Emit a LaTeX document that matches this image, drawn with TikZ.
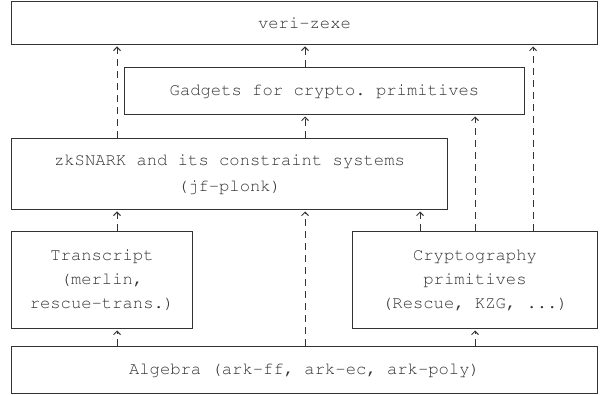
\documentclass[tikz,border=0pt]{standalone}
\usepackage[T1]{fontenc}
\usetikzlibrary{arrows.meta}
\definecolor{ink}{HTML}{333333}
\frenchspacing
\tikzset{
  box/.style={draw=ink, line width=1pt, anchor=north west, inner sep=0pt,
    align=center, text=ink, font=\fontfamily{pcr}\fontsize{17.2}{24}\selectfont\frenchspacing},
  dep/.style={draw=ink, line width=0.9pt, dash pattern=on 7pt off 5pt,
    -{Straight Barb[length=3.5pt,width=7pt]}, shorten >=1.5pt}
}
\begin{document}
\begin{tikzpicture}[x=1pt,y=-1pt]
\useasboundingbox (0,0) rectangle (608,395);
\node[box, minimum width=586pt, minimum height=43pt] (veri) at (11,1) {veri-zexe};
\node[box, minimum width=400pt, minimum height=47pt] (gad) at (124,67) {Gadgets for crypto. primitives};
\node[box, minimum width=436pt, minimum height=71pt, font=\fontfamily{pcr}\fontsize{17.2}{26}\selectfont] (zk) at (11,138) {zkSNARK and its constraint systems\\(jf-plonk)};
\node[box, minimum width=181pt, minimum height=97pt] (tr) at (11,231) {Transcript\\(merlin,\\rescue-trans.)};
\node[box, minimum width=245pt, minimum height=97pt] (cr) at (352,231) {Cryptography\\primitives\\(Rescue, KZG, ...)};
\node[box, minimum width=586pt, minimum height=47pt] (alg) at (11,346) {Algebra (ark-ff, ark-ec, ark-poly)};
\coordinate (xa) at (117,0);
\coordinate (xb) at (305,0);
\coordinate (xc) at (420,0);
\coordinate (xd) at (475,0);
\coordinate (xe) at (533,0);
\draw[dep] (zk.north -| xa) -- (veri.south -| xa);
\draw[dep] (gad.north -| xb) -- (veri.south -| xb);
\draw[dep] (cr.north -| xe) -- (veri.south -| xe);
\draw[dep] (zk.north -| xb) -- (gad.south -| xb);
\draw[dep] (cr.north -| xd) -- (gad.south -| xd);
\draw[dep] (tr.north -| xa) -- (zk.south -| xa);
\draw[dep] (alg.north -| xb) -- (zk.south -| xb);
\draw[dep] (cr.north -| xc) -- (zk.south -| xc);
\draw[dep] (alg.north -| xa) -- (tr.south -| xa);
\draw[dep] (alg.north -| xd) -- (cr.south -| xd);
\end{tikzpicture}
\end{document}
